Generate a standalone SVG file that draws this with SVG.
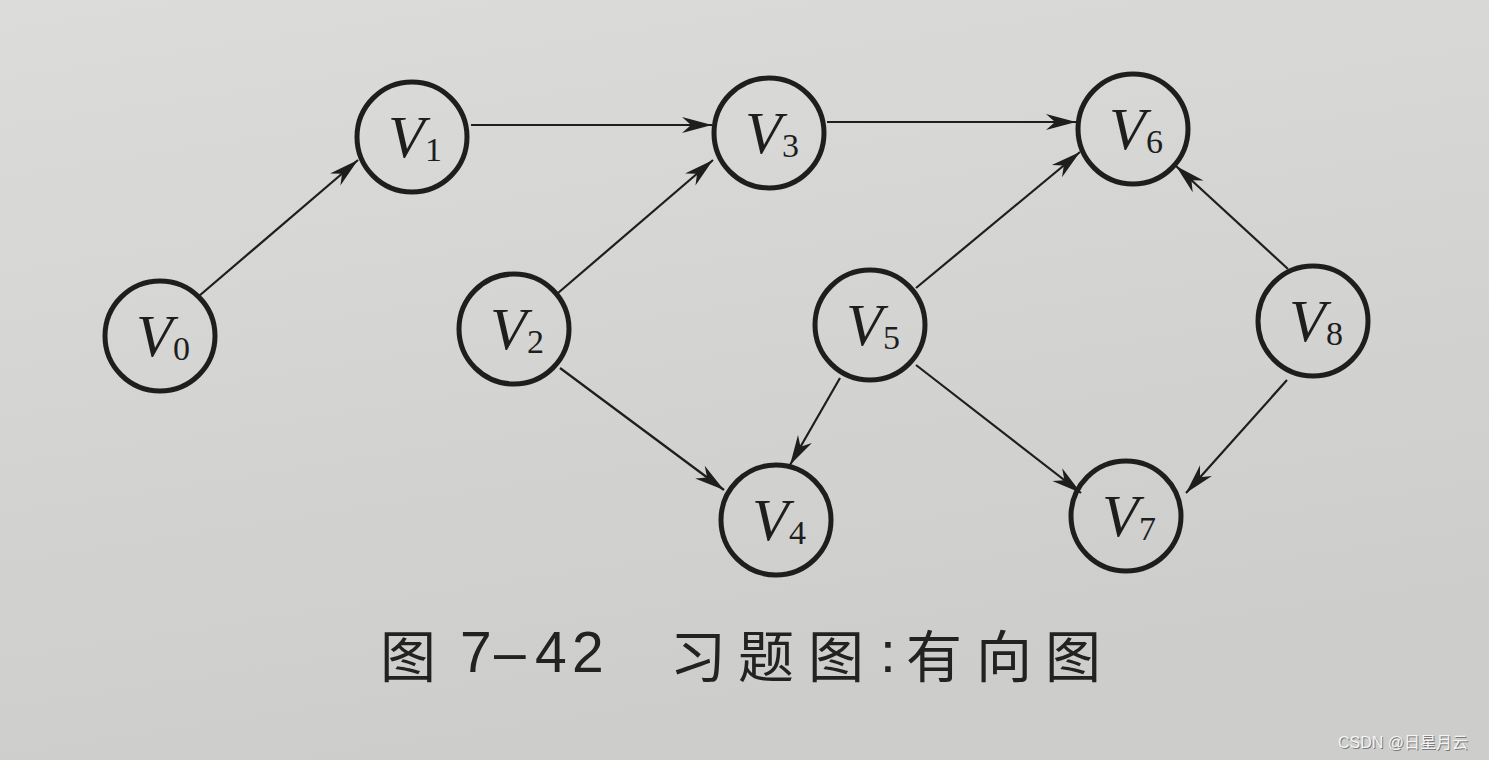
<svg xmlns="http://www.w3.org/2000/svg" width="1489" height="760" viewBox="0 0 1489 760">
<defs>
<linearGradient id="bg" x1="0" y1="0" x2="0.3" y2="1">
<stop offset="0" stop-color="#dcdcda"/>
<stop offset="1" stop-color="#cdcdcb"/>
</linearGradient>
<marker id="arr" markerUnits="userSpaceOnUse" markerWidth="34" markerHeight="20" viewBox="-32 -10 34 20" refX="0" refY="0" orient="auto">
<path d="M0,0 L-30,-8 L-21,0 L-30,8 Z" fill="#1e1e1e"/>
</marker>
<style>
.node circle{fill:none;stroke:#1e1e1e;stroke-width:5}
.v{font-family:"Liberation Serif",serif;font-style:italic;font-size:60px;fill:#1e1e1e}
.s{font-family:"Liberation Serif",serif;font-size:34px;fill:#1e1e1e}
.edge{stroke:#1e1e1e;stroke-width:2.2;fill:none;marker-end:url(#arr)}
.cap{font-family:"Noto Sans CJK SC",sans-serif;font-size:56px;fill:#222}
.num{font-family:"Liberation Sans",sans-serif;font-size:57px;fill:#222}
.wm{font-family:"Liberation Sans","Noto Sans CJK SC",sans-serif;font-size:16px}
</style>
</defs>
<rect width="1489" height="760" fill="url(#bg)"/>
<g id="connectors">
<line class="edge" x1="199" y1="296" x2="358" y2="160"/>
<line class="edge" x1="471" y1="125" x2="712" y2="125"/>
<line class="edge" x1="827" y1="122" x2="1076" y2="122"/>
<line class="edge" x1="558" y1="293" x2="713" y2="160"/>
<line class="edge" x1="560" y1="368" x2="724" y2="490"/>
<line class="edge" x1="916" y1="288" x2="1080" y2="152"/>
<line class="edge" x1="840" y1="378" x2="790" y2="465"/>
<line class="edge" x1="916" y1="365" x2="1081" y2="493"/>
<line class="edge" x1="1288" y1="269" x2="1176" y2="166"/>
<line class="edge" x1="1287" y1="380" x2="1186" y2="493"/>
</g>
<g id="V0" class="node"><circle cx="160" cy="336" r="55"/><text class="v" x="136" y="356">V</text><text class="s" x="173" y="360">0</text></g>
<g id="V1" class="node"><circle cx="412" cy="137" r="55"/><text class="v" x="388" y="157">V</text><text class="s" x="425" y="161">1</text></g>
<g id="V2" class="node"><circle cx="514" cy="329" r="55"/><text class="v" x="490" y="349">V</text><text class="s" x="527" y="353">2</text></g>
<g id="V3" class="node"><circle cx="769" cy="133" r="55"/><text class="v" x="745" y="153">V</text><text class="s" x="782" y="157">3</text></g>
<g id="V4" class="node"><circle cx="776" cy="520" r="55"/><text class="v" x="752" y="540">V</text><text class="s" x="789" y="544">4</text></g>
<g id="V5" class="node"><circle cx="870" cy="325" r="55"/><text class="v" x="846" y="345">V</text><text class="s" x="883" y="349">5</text></g>
<g id="V6" class="node"><circle cx="1133" cy="129" r="55"/><text class="v" x="1109" y="149">V</text><text class="s" x="1146" y="153">6</text></g>
<g id="V7" class="node"><circle cx="1126" cy="516" r="55"/><text class="v" x="1102" y="536">V</text><text class="s" x="1139" y="540">7</text></g>
<g id="V8" class="node"><circle cx="1313" cy="321" r="55"/><text class="v" x="1289" y="341">V</text><text class="s" x="1326" y="345">8</text></g>
<g id="caption">
<text class="cap" x="380" y="677">图</text>
<text class="num" x="460 494 535 572" y="672">7–42</text>
<text class="cap" x="670 738 808" y="677">习题图</text>
<text class="num" x="880" y="672">:</text>
<text class="cap" x="906 976 1045" y="677">有向图</text>
</g>
<g id="watermark">
<text class="wm" x="1339" y="749" fill="#7a7a7a">CSDN @日星月云</text>
<text class="wm" x="1338" y="748" fill="#f4f4f4">CSDN @日星月云</text>
</g>
</svg>
